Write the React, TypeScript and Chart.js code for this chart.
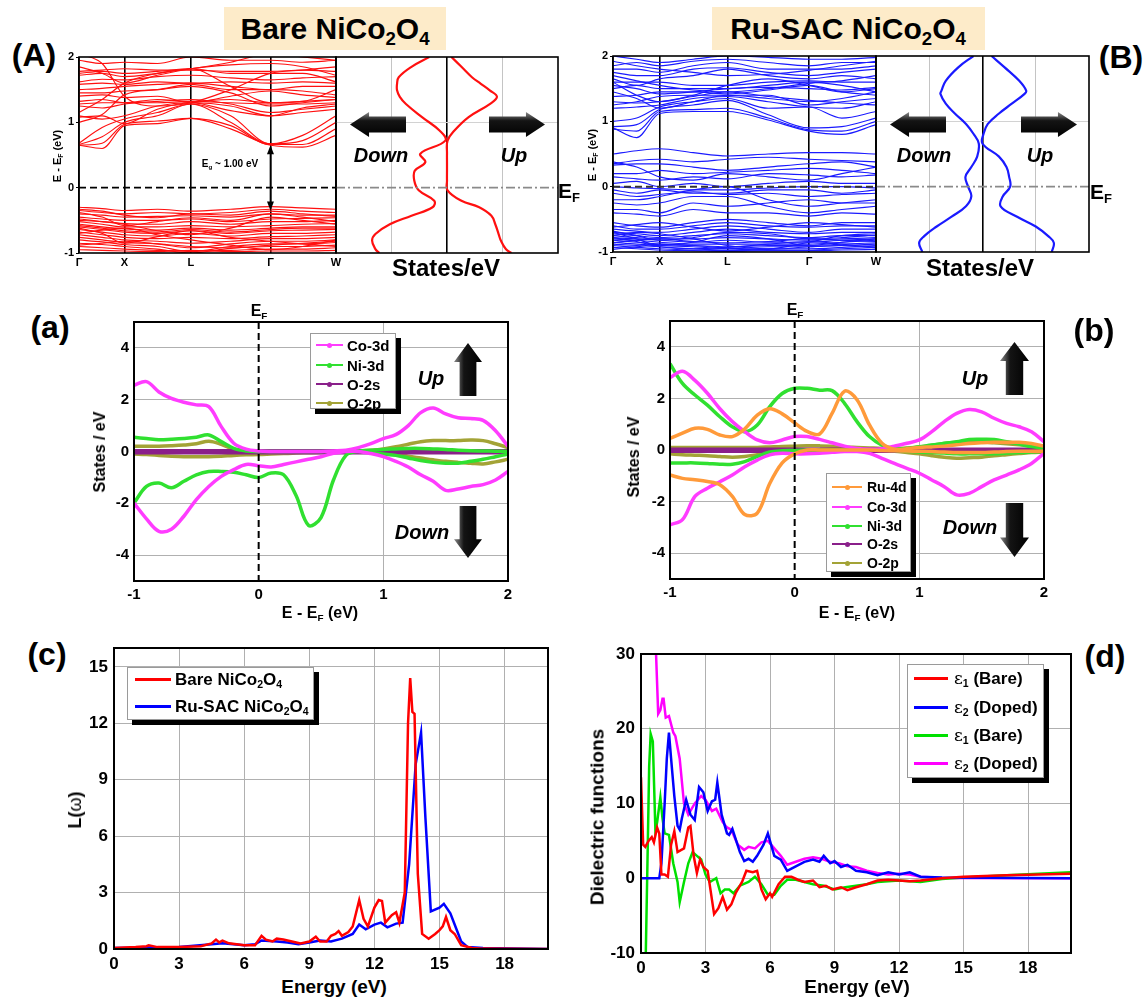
import React, { useEffect, useRef } from 'react';
import { Chart, registerables } from 'chart.js';
Chart.register(...registerables);

const FONT = "'Liberation Sans', Arial, Helvetica, sans-serif";

// ---------------- Band structures (A, B) ----------------
const K_PATH = [0, 0.09, 0.177, 0.305, 0.435, 0.59, 0.745, 0.87, 1.0];
const K_SYM = [0, 0.177, 0.435, 0.745, 1.0];
const K_LABELS = ['Γ', 'X', 'L', 'Γ', 'W'];
const BAND_Y_TICKS = [-1, 0, 1, 2];
const EG_TOP = 0.65;
const EG_BOTTOM = -0.35;

const BARE_COND = [
  [0.65, 0.60, 0.95, 0.98, 1.06, 0.90, 0.65, 0.62, 0.80],
  [0.65, 0.68, 0.97, 1.02, 1.06, 0.95, 0.66, 0.66, 0.90],
  [0.66, 0.78, 1.00, 1.10, 1.28, 1.00, 0.67, 0.72, 1.00],
  [0.68, 0.92, 1.05, 1.15, 1.28, 1.10, 0.67, 0.80, 1.10],
  [1.08, 1.10, 0.98, 1.20, 1.30, 1.25, 1.10, 1.15, 1.20],
  [1.10, 1.05, 1.10, 1.25, 1.30, 1.18, 1.10, 1.22, 1.28],
  [1.28, 1.30, 1.30, 1.30, 1.32, 1.30, 1.28, 1.28, 1.30],
  [1.32, 1.35, 1.30, 1.35, 1.32, 1.35, 1.30, 1.32, 1.35],
  [1.40, 1.42, 1.38, 1.40, 1.30, 1.40, 1.48, 1.42, 1.38],
  [1.45, 1.45, 1.48, 1.50, 1.58, 1.50, 1.50, 1.48, 1.42],
  [1.50, 1.52, 1.55, 1.58, 1.60, 1.55, 1.50, 1.55, 1.55],
  [1.58, 1.60, 1.58, 1.62, 1.60, 1.62, 1.60, 1.62, 1.60],
  [1.72, 1.75, 1.70, 1.75, 1.82, 1.55, 1.30, 1.32, 1.50],
  [1.75, 1.78, 1.75, 1.78, 1.82, 1.75, 1.75, 1.75, 1.62],
  [1.78, 1.80, 1.82, 1.80, 1.80, 1.78, 1.78, 1.80, 1.78],
  [1.85, 1.75, 1.60, 1.72, 1.82, 1.88, 1.90, 1.85, 1.72],
  [1.95, 1.90, 1.92, 1.90, 2.00, 1.95, 1.95, 1.92, 1.95],
  [2.05, 1.90, 1.40, 1.25, 1.30, 1.50, 1.75, 1.80, 1.85],
  [1.15, 1.35, 1.60, 1.75, 1.82, 1.92, 2.05, 2.00, 1.95],
  [1.00, 1.12, 1.42, 1.50, 1.55, 1.45, 1.25, 1.30, 1.35],
  [1.62, 1.66, 1.65, 1.70, 1.72, 1.68, 1.65, 1.68, 1.70],
  [1.25, 1.22, 1.28, 1.32, 1.35, 1.28, 1.15, 1.20, 1.25],
];
const BARE_VAL = [
  [-0.30, -0.32, -0.35, -0.33, -0.36, -0.33, -0.29, -0.31, -0.33],
  [-0.35, -0.38, -0.40, -0.38, -0.40, -0.38, -0.33, -0.36, -0.38],
  [-0.40, -0.42, -0.45, -0.44, -0.43, -0.45, -0.40, -0.42, -0.42],
  [-0.45, -0.48, -0.50, -0.50, -0.48, -0.52, -0.48, -0.47, -0.46],
  [-0.48, -0.52, -0.55, -0.56, -0.52, -0.56, -0.52, -0.52, -0.50],
  [-0.52, -0.56, -0.60, -0.60, -0.58, -0.60, -0.58, -0.56, -0.55],
  [-0.56, -0.60, -0.63, -0.65, -0.62, -0.65, -0.62, -0.60, -0.60],
  [-0.60, -0.64, -0.68, -0.70, -0.66, -0.70, -0.66, -0.65, -0.64],
  [-0.64, -0.68, -0.72, -0.74, -0.70, -0.74, -0.70, -0.70, -0.68],
  [-0.68, -0.72, -0.76, -0.78, -0.76, -0.78, -0.75, -0.74, -0.72],
  [-0.72, -0.76, -0.80, -0.82, -0.85, -0.82, -0.78, -0.78, -0.76],
  [-0.76, -0.80, -0.84, -0.86, -0.92, -0.86, -0.82, -0.82, -0.80],
  [-0.80, -0.83, -0.87, -0.90, -0.98, -0.90, -0.86, -0.86, -0.84],
  [-0.85, -0.87, -0.90, -0.94, -1.00, -0.93, -0.90, -0.90, -0.88],
  [-0.90, -0.92, -0.94, -0.96, -0.97, -0.96, -0.94, -0.94, -0.92],
  [-0.95, -0.96, -0.97, -0.98, -0.96, -0.98, -0.97, -0.97, -0.96],
  [-0.62, -0.70, -0.85, -0.75, -0.66, -0.76, -0.82, -0.86, -0.90],
  [-0.50, -0.52, -0.56, -0.66, -0.72, -0.62, -0.45, -0.50, -0.56],
  [-0.38, -0.45, -0.58, -0.52, -0.46, -0.50, -0.40, -0.45, -0.52],
  [-0.70, -0.65, -0.62, -0.72, -0.80, -0.88, -0.95, -0.90, -0.80],
  [-0.58, -0.62, -0.66, -0.68, -0.64, -0.68, -0.64, -0.62, -0.62],
  [-0.88, -0.85, -0.82, -0.86, -0.90, -0.92, -0.88, -0.85, -0.82],
  [-0.33, -0.36, -0.42, -0.46, -0.40, -0.42, -0.36, -0.40, -0.44],
];
const RU_COND = [
  [0.90, 0.75, 1.12, 1.15, 1.15, 1.02, 0.85, 0.80, 0.95],
  [0.88, 0.85, 1.15, 1.18, 1.20, 1.05, 0.87, 0.85, 1.00],
  [0.92, 0.95, 1.18, 1.25, 1.32, 1.10, 0.90, 0.92, 1.05],
  [1.00, 1.05, 1.22, 1.30, 1.35, 1.20, 1.22, 1.05, 1.15],
  [1.20, 1.22, 1.25, 1.35, 1.38, 1.30, 1.22, 1.20, 1.30],
  [1.25, 1.30, 1.38, 1.40, 1.40, 1.40, 1.25, 1.30, 1.35],
  [1.38, 1.40, 1.45, 1.45, 1.42, 1.48, 1.55, 1.45, 1.40],
  [1.50, 1.55, 1.50, 1.50, 1.50, 1.55, 1.60, 1.55, 1.45],
  [1.60, 1.60, 1.60, 1.55, 1.55, 1.60, 1.62, 1.60, 1.60],
  [1.65, 1.55, 1.65, 1.70, 1.80, 1.70, 1.65, 1.70, 1.65],
  [1.75, 1.70, 1.70, 1.80, 1.82, 1.75, 1.70, 1.75, 1.80],
  [1.80, 1.80, 1.75, 1.85, 1.90, 1.80, 1.80, 1.80, 1.85],
  [1.85, 1.90, 1.85, 1.92, 1.95, 1.90, 1.85, 1.90, 1.90],
  [2.00, 1.95, 1.90, 1.95, 2.00, 1.98, 1.95, 1.95, 1.98],
  [1.60, 1.40, 1.30, 1.40, 1.55, 1.65, 1.55, 1.45, 1.50],
  [1.45, 1.35, 1.20, 1.30, 1.40, 1.35, 1.30, 1.35, 1.45],
  [1.70, 1.62, 1.55, 1.48, 1.45, 1.50, 1.58, 1.62, 1.70],
  [1.30, 1.28, 1.30, 1.38, 1.45, 1.38, 1.32, 1.28, 1.25],
  [1.55, 1.50, 1.42, 1.45, 1.50, 1.52, 1.50, 1.48, 1.52],
  [1.92, 1.85, 1.80, 1.75, 1.70, 1.72, 1.78, 1.85, 1.92],
];
const RU_MID = [
  [0.50, 0.55, 0.58, 0.52, 0.47, 0.50, 0.52, 0.52, 0.50],
  [0.35, 0.40, 0.42, 0.38, 0.42, 0.45, 0.42, 0.40, 0.38],
  [0.33, 0.35, 0.35, 0.30, 0.25, 0.30, 0.35, 0.38, 0.30],
  [0.20, 0.20, 0.25, 0.20, 0.22, 0.25, 0.28, 0.25, 0.20],
  [0.15, 0.12, 0.10, 0.15, 0.12, 0.20, 0.18, 0.15, 0.18],
  [0.05, 0.08, 0.00, 0.05, 0.00, 0.05, 0.08, 0.05, 0.05],
  [0.00, -0.02, -0.03, -0.05, -0.05, -0.02, 0.00, 0.00, -0.02],
  [-0.05, -0.10, -0.05, -0.10, -0.10, -0.05, -0.05, -0.10, -0.05],
  [-0.10, -0.15, -0.12, -0.08, -0.12, -0.10, -0.15, -0.12, -0.10],
  [-0.20, -0.20, -0.15, -0.05, 0.00, -0.20, -0.30, -0.25, -0.20],
  [-0.25, -0.28, -0.25, -0.15, -0.15, -0.30, -0.40, -0.35, -0.30],
  [-0.35, -0.35, -0.40, -0.25, -0.30, -0.25, -0.20, -0.25, -0.25],
  [-0.40, -0.42, -0.45, -0.35, -0.40, -0.40, -0.45, -0.40, -0.42],
  [0.38, 0.30, 0.15, 0.10, 0.20, 0.15, 0.10, 0.20, 0.30],
];
const RU_LOW = [
  [-0.55, -0.60, -0.62, -0.55, -0.50, -0.55, -0.60, -0.55, -0.55],
  [-0.60, -0.65, -0.65, -0.60, -0.55, -0.60, -0.62, -0.60, -0.60],
  [-0.65, -0.68, -0.70, -0.65, -0.60, -0.65, -0.70, -0.65, -0.65],
  [-0.70, -0.72, -0.75, -0.70, -0.65, -0.70, -0.72, -0.70, -0.70],
  [-0.72, -0.75, -0.78, -0.75, -0.72, -0.75, -0.78, -0.75, -0.75],
  [-0.75, -0.78, -0.80, -0.80, -0.78, -0.80, -0.82, -0.80, -0.78],
  [-0.78, -0.80, -0.82, -0.85, -0.82, -0.85, -0.85, -0.82, -0.80],
  [-0.80, -0.82, -0.85, -0.88, -0.88, -0.88, -0.88, -0.85, -0.82],
  [-0.82, -0.85, -0.88, -0.90, -0.92, -0.90, -0.90, -0.88, -0.86],
  [-0.85, -0.88, -0.90, -0.92, -0.95, -0.92, -0.92, -0.90, -0.88],
  [-0.88, -0.90, -0.92, -0.95, -0.97, -0.95, -0.95, -0.93, -0.90],
  [-0.90, -0.93, -0.95, -0.97, -0.98, -0.97, -0.97, -0.95, -0.93],
  [-0.93, -0.95, -0.97, -0.98, -0.99, -0.98, -0.98, -0.97, -0.96],
  [-0.70, -0.80, -0.90, -0.85, -0.75, -0.80, -0.90, -0.85, -0.80],
  [-0.75, -0.70, -0.72, -0.80, -0.90, -0.95, -0.85, -0.75, -0.72],
  [-0.62, -0.58, -0.55, -0.62, -0.68, -0.62, -0.55, -0.58, -0.62],
  [-0.68, -0.75, -0.82, -0.78, -0.70, -0.72, -0.80, -0.78, -0.74],
  [-0.86, -0.82, -0.80, -0.84, -0.86, -0.84, -0.80, -0.82, -0.84],
  [-0.96, -0.92, -0.88, -0.90, -0.94, -0.96, -0.92, -0.90, -0.92],
  [-0.78, -0.84, -0.92, -0.95, -0.93, -0.88, -0.84, -0.88, -0.94],
];

// ---------------- Total DOS (side panels) ----------------
const DOS_X_GRID = [-1, 0, 1];
const DOS_Y_GRID = [1];
const DOS_A_E = [2.0, 1.85, 1.69, 1.59, 1.49, 1.39, 1.28, 1.08, 0.87, 0.72, 0.52, 0.39, 0.26, 0.11, -0.04, -0.2, -0.3, -0.43, -0.56, -0.71, -0.81, -0.94, -1.0];
const DOS_A_DOWN = [-0.32, -0.64, -0.87, -0.90, -0.90, -0.85, -0.74, -0.45, -0.13, -0.03, -0.48, -0.39, -0.58, -0.59, -0.51, -0.23, -0.26, -0.64, -1.03, -1.29, -1.35, -1.29, -1.22];
const DOS_A_UP = [0.08, 0.26, 0.45, 0.61, 0.77, 0.90, 0.77, 0.39, 0.13, 0.01, 0.00, 0.00, 0.00, 0.00, 0.01, 0.26, 0.58, 0.80, 0.87, 0.93, 0.97, 1.06, 1.16];
const DOS_B_E = [2.0, 1.83, 1.62, 1.47, 1.42, 1.27, 1.12, 0.96, 0.81, 0.66, 0.46, 0.30, 0.15, 0.0, -0.15, -0.30, -0.46, -0.61, -0.76, -0.86, -1.0];
const DOS_B_DOWN = [-0.17, -0.45, -0.69, -0.77, -0.79, -0.69, -0.52, -0.31, -0.17, -0.07, -0.10, -0.21, -0.32, -0.27, -0.21, -0.31, -0.58, -0.86, -1.10, -1.19, -1.13];
const DOS_B_UP = [0.17, 0.41, 0.69, 0.82, 0.79, 0.55, 0.31, 0.10, 0.02, 0.00, 0.31, 0.45, 0.50, 0.52, 0.38, 0.34, 0.65, 1.00, 1.24, 1.34, 1.30];

// ---------------- PDOS (a, b) ----------------
const PDOS_E = [-1.0, -0.9, -0.8, -0.7, -0.6, -0.5, -0.4, -0.3, -0.2, -0.1, 0.0, 0.1, 0.2, 0.3, 0.4, 0.5, 0.6, 0.7, 0.8, 0.9, 1.0, 1.1, 1.2, 1.3, 1.4, 1.5, 1.6, 1.7, 1.8, 1.9, 2.0];
const PDOS_X_TICKS = [-1, 0, 1, 2];
const PDOS_Y_TICKS = [-4, -2, 0, 2, 4];

const CO_UP_A = [2.56, 2.70, 2.30, 2.05, 1.90, 1.80, 1.73, 0.96, 0.32, 0.09, 0.02, 0.00, 0.00, 0.00, 0.00, 0.00, 0.02, 0.05, 0.15, 0.30, 0.50, 0.65, 1.00, 1.50, 1.68, 1.45, 1.30, 1.27, 1.20, 0.80, 0.20];
const CO_DN_A = [-1.99, -2.60, -3.08, -3.00, -2.50, -1.86, -1.35, -0.96, -0.70, -0.50, -0.55, -0.60, -0.50, -0.40, -0.30, -0.20, -0.07, 0.00, 0.00, -0.08, -0.20, -0.38, -0.60, -0.90, -1.15, -1.50, -1.45, -1.35, -1.28, -1.10, -0.77];
const NI_UP_A = [0.55, 0.50, 0.45, 0.47, 0.50, 0.55, 0.64, 0.38, 0.12, 0.02, 0.00, 0.00, 0.00, 0.00, 0.00, 0.00, 0.00, 0.00, 0.02, 0.05, 0.08, 0.10, 0.12, 0.12, 0.10, 0.08, 0.05, 0.03, 0.02, 0.01, 0.00];
const NI_DN_A = [-1.99, -1.35, -1.22, -1.40, -1.15, -0.90, -0.77, -0.77, -0.80, -0.90, -1.00, -0.83, -0.90, -1.70, -2.85, -2.55, -1.10, -0.15, 0.00, -0.05, -0.10, -0.15, -0.25, -0.35, -0.42, -0.45, -0.45, -0.38, -0.30, -0.20, -0.10];
const O2S_UP_A = [0.03, 0.03, 0.03, 0.03, 0.03, 0.03, 0.03, 0.03, 0.03, 0.03, 0.03, 0.03, 0.03, 0.03, 0.03, 0.03, 0.03, 0.03, 0.03, 0.03, 0.03, 0.03, 0.03, 0.03, 0.03, 0.03, 0.03, 0.03, 0.03, 0.03, 0.03];
const O2S_DN_A = [-0.05, -0.05, -0.05, -0.05, -0.05, -0.05, -0.05, -0.05, -0.05, -0.05, -0.05, -0.05, -0.05, -0.05, -0.05, -0.05, -0.05, -0.05, -0.05, -0.05, -0.05, -0.05, -0.05, -0.05, -0.05, -0.05, -0.05, -0.05, -0.05, -0.05, -0.05];
const O2P_UP_A = [0.20, 0.20, 0.20, 0.22, 0.25, 0.30, 0.40, 0.28, 0.08, 0.02, 0.00, 0.00, 0.00, 0.00, 0.00, 0.00, 0.00, 0.00, 0.02, 0.05, 0.10, 0.18, 0.28, 0.38, 0.42, 0.42, 0.42, 0.44, 0.42, 0.30, 0.15];
const O2P_DN_A = [-0.10, -0.12, -0.15, -0.18, -0.20, -0.20, -0.20, -0.18, -0.15, -0.13, -0.12, -0.10, -0.08, -0.06, -0.05, -0.04, -0.02, 0.00, 0.00, -0.02, -0.05, -0.10, -0.18, -0.25, -0.32, -0.38, -0.42, -0.45, -0.48, -0.40, -0.30];

const RU_UP_B = [0.45, 0.65, 0.84, 0.80, 0.58, 0.52, 0.82, 1.35, 1.60, 1.40, 1.05, 0.72, 0.62, 1.42, 2.28, 1.95, 0.97, 0.26, 0.03, 0.05, 0.10, 0.12, 0.15, 0.20, 0.25, 0.28, 0.30, 0.30, 0.30, 0.25, 0.15];
const RU_DN_B = [-0.97, -1.10, -1.15, -1.22, -1.35, -1.80, -2.50, -2.45, -1.30, -0.50, -0.15, 0.00, 0.00, 0.00, 0.00, 0.00, 0.00, -0.02, -0.03, -0.04, -0.05, -0.06, -0.08, -0.10, -0.10, -0.10, -0.08, -0.06, -0.05, -0.05, -0.05];
const CO_UP_B = [2.80, 3.05, 2.70, 2.20, 1.60, 1.10, 0.71, 0.39, 0.28, 0.39, 0.52, 0.52, 0.41, 0.28, 0.15, 0.06, 0.03, 0.05, 0.15, 0.26, 0.39, 0.71, 1.10, 1.42, 1.57, 1.48, 1.23, 1.03, 0.90, 0.71, 0.32];
const CO_DN_B = [-2.90, -2.70, -1.80, -1.48, -1.23, -0.97, -0.65, -0.39, -0.19, -0.13, -0.15, -0.15, -0.13, -0.09, -0.06, -0.06, -0.13, -0.32, -0.52, -0.71, -0.90, -1.16, -1.42, -1.74, -1.68, -1.42, -1.16, -0.97, -0.77, -0.52, -0.13];
const NI_UP_B = [3.35, 2.58, 2.13, 1.74, 1.29, 0.90, 0.71, 0.97, 1.68, 2.19, 2.39, 2.39, 2.32, 2.30, 1.81, 1.10, 0.52, 0.19, 0.06, 0.06, 0.13, 0.19, 0.26, 0.32, 0.41, 0.42, 0.41, 0.32, 0.23, 0.13, 0.06];
const NI_DN_B = [-0.50, -0.50, -0.50, -0.52, -0.55, -0.55, -0.45, -0.25, -0.08, -0.03, -0.02, 0.00, 0.00, 0.00, 0.00, 0.00, 0.00, 0.00, -0.02, -0.05, -0.08, -0.10, -0.12, -0.15, -0.15, -0.15, -0.15, -0.12, -0.10, -0.08, -0.05];
const O2S_UP_B = [0.03, 0.03, 0.03, 0.03, 0.03, 0.03, 0.03, 0.03, 0.03, 0.03, 0.03, 0.03, 0.03, 0.03, 0.03, 0.03, 0.03, 0.03, 0.03, 0.03, 0.03, 0.03, 0.03, 0.03, 0.03, 0.03, 0.03, 0.03, 0.03, 0.03, 0.03];
const O2S_DN_B = [-0.05, -0.05, -0.05, -0.05, -0.05, -0.05, -0.05, -0.05, -0.05, -0.05, -0.05, -0.05, -0.05, -0.05, -0.05, -0.05, -0.05, -0.05, -0.05, -0.05, -0.05, -0.05, -0.05, -0.05, -0.05, -0.05, -0.05, -0.05, -0.05, -0.05, -0.05];
const O2P_UP_B = [0.10, 0.10, 0.10, 0.10, 0.10, 0.10, 0.10, 0.10, 0.12, 0.14, 0.15, 0.16, 0.16, 0.15, 0.12, 0.10, 0.08, 0.06, 0.05, 0.08, 0.12, 0.18, 0.25, 0.30, 0.33, 0.32, 0.28, 0.24, 0.20, 0.16, 0.12];
const O2P_DN_B = [-0.15, -0.18, -0.20, -0.22, -0.25, -0.28, -0.25, -0.18, -0.10, -0.06, -0.04, -0.02, 0.00, 0.00, 0.00, 0.00, 0.00, -0.02, -0.05, -0.10, -0.15, -0.22, -0.28, -0.32, -0.30, -0.28, -0.22, -0.18, -0.14, -0.10, -0.08];

// ---------------- Loss function (c) ----------------
const OPT_X_TICKS = [0, 3, 6, 9, 12, 15, 18];
const LOSS_Y_TICKS = [0, 3, 6, 9, 12, 15];
const LOSS_E_BARE = [0, 1, 1.5, 1.6, 2, 3, 4, 4.5, 4.7, 4.85, 5.0, 5.3, 6, 6.5, 6.8, 7.0, 7.3, 7.5, 7.8, 8.2, 8.6, 9.0, 9.3, 9.5, 9.8, 10.0, 10.2, 10.35, 10.5, 10.8, 11.0, 11.3, 11.5, 11.7, 12.0, 12.2, 12.35, 12.5, 12.8, 13.0, 13.15, 13.4, 13.55, 13.65, 13.75, 13.85, 14.0, 14.2, 14.5, 14.8, 15.0, 15.15, 15.3, 15.5, 15.7, 16.0, 16.5, 17, 20];
const LOSS_BARE = [0.05, 0.1, 0.15, 0.2, 0.1, 0.1, 0.15, 0.3, 0.5, 0.35, 0.45, 0.3, 0.2, 0.2, 0.7, 0.5, 0.4, 0.55, 0.5, 0.4, 0.3, 0.4, 0.65, 0.4, 0.4, 0.7, 0.8, 0.95, 0.7, 0.9, 1.2, 2.6, 1.6, 1.2, 2.2, 2.6, 2.55, 1.4, 1.8, 1.95, 1.4, 3.0, 12.0, 14.4, 12.6, 12.5, 4.0, 0.8, 0.55, 0.8, 1.0, 1.2, 1.7, 1.0, 0.8, 0.2, 0.05, 0.02, 0];
const LOSS_E_RU = [0, 3, 4.5, 5, 6, 6.5, 6.8, 7.5, 8.0, 8.5, 9, 9.5, 10, 10.5, 11.0, 11.3, 11.6, 12.0, 12.3, 12.6, 13.0, 13.3, 13.6, 13.9, 14.15, 14.35, 14.6, 15.0, 15.2, 15.5, 15.8, 16.0, 16.3, 17.0, 20];
const LOSS_RU = [0.05, 0.1, 0.25, 0.3, 0.2, 0.25, 0.45, 0.4, 0.35, 0.25, 0.35, 0.45, 0.4, 0.55, 0.8, 1.3, 1.05, 1.3, 1.4, 1.15, 1.35, 1.4, 4.5, 9.8, 11.5, 7.0, 2.0, 2.2, 2.4, 1.9, 1.0, 0.4, 0.1, 0.05, 0];

// ---------------- Dielectric functions (d) ----------------
const EPS_Y_TICKS = [-10, 0, 10, 20, 30];
const EPS_E_RED = [0, 0.1, 0.2, 0.35, 0.5, 0.6, 0.75, 0.85, 0.95, 1.1, 1.25, 1.4, 1.55, 1.7, 2.0, 2.2, 2.3, 2.45, 2.6, 2.75, 2.9, 3.1, 3.4, 3.6, 3.8, 4.0, 4.2, 4.4, 4.7, 4.9, 5.2, 5.4, 5.6, 5.8, 6.0, 6.1, 6.4, 6.7, 7.0, 7.3, 7.6, 8.0, 8.3, 8.6, 8.9, 9.3, 9.6, 10.0, 10.5, 11.0, 11.5, 12.0, 12.5, 13.0, 14, 15, 17, 20];
const EPS_RED = [13.5, 4.5, 4.2, 5.0, 5.5, 4.8, 6.8, 6.0, 0.5, 0.5, 0.2, 4.5, 6.3, 3.5, 4.0, 6.8, 7.0, 3.0, 0.7, 2.5, 1.5, 1.0, -4.8, -4.0, -2.5, -4.2, -3.5, -2.0, -0.5, 1.0, 0.8, 1.0, -1.5, -2.8, -2.0, -2.5, -0.8, 0.2, 0.2, -0.2, -0.5, -0.3, -1.2, -1.0, -1.5, -1.2, -1.6, -1.2, -0.8, -0.3, -0.2, -0.3, -0.4, -0.3, 0.0, 0.2, 0.4, 0.6];
const EPS_E_BLUE = [0, 0.85, 0.95, 1.1, 1.2, 1.3, 1.4, 1.55, 1.7, 1.8, 1.9, 2.1, 2.3, 2.5, 2.7, 2.9, 3.1, 3.3, 3.45, 3.55, 3.75, 4.0, 4.1, 4.25, 4.6, 4.8, 5.0, 5.2, 5.4, 5.7, 5.9, 6.05, 6.2, 6.5, 6.8, 7.2, 7.6, 8.0, 8.3, 8.5, 8.8, 9.0, 9.3, 9.6, 10.0, 10.5, 11.0, 11.5, 12.0, 12.5, 13.0, 14, 20];
const EPS_BLUE = [0, 0, 2.0, 10.0, 16.0, 19.5, 16.0, 11.0, 7.0, 6.5, 8.0, 10.5, 8.5, 7.8, 12.2, 11.5, 9.0, 10.3, 10.5, 12.8, 8.5, 6.0, 5.8, 6.6, 3.5, 2.3, 2.6, 2.2, 3.0, 4.5, 6.0, 4.5, 3.0, 2.5, 1.0, 1.6, 2.2, 2.5, 2.2, 3.0, 2.0, 2.3, 1.5, 1.8, 1.0, 0.8, 0.4, 0.8, 0.5, 0.8, 0.2, 0.1, 0.0];
const EPS_E_GREEN = [0.22, 0.3, 0.38, 0.45, 0.55, 0.67, 0.75, 0.9, 1.0, 1.1, 1.3, 1.5, 1.7, 1.8, 2.0, 2.2, 2.4, 2.6, 2.8, 3.0, 3.2, 3.5, 3.7, 3.9, 4.1, 4.3, 4.6, 5.0, 5.3, 5.6, 5.9, 6.2, 6.5, 6.8, 7.2, 7.6, 8.0, 8.5, 9.0, 9.5, 10.0, 10.5, 11.0, 12, 13, 14, 15, 17, 20];
const EPS_GREEN = [-10.5, 2.0, 15, 19.3, 18.3, 6.4, 7.5, 10.8, 8.0, 6.0, 5.8, 2.0, -0.5, -3.2, -0.5, 2.0, 3.5, 3.0, 2.5, 0.5, -0.5, 0.0, -2.0, -1.5, -1.5, -2.0, -1.0, -0.5, 0.2, -0.8, -2.2, -2.2, -1.0, -0.2, -0.2, -0.5, -0.8, -1.0, -1.5, -1.2, -1.0, -0.8, -0.5, -0.3, -0.5, -0.1, 0.1, 0.4, 0.8];
const EPS_E_MAG = [0.7, 0.8, 0.9, 1.0, 1.05, 1.15, 1.3, 1.5, 1.6, 1.8, 2.0, 2.2, 2.5, 2.8, 3.0, 3.3, 3.5, 3.8, 4.0, 4.2, 4.5, 4.8, 5.0, 5.3, 5.6, 5.9, 6.2, 6.5, 6.8, 7.2, 7.6, 8.0, 8.4, 8.8, 9.2, 9.6, 10.0, 10.5, 11.0, 11.5, 12.0, 12.5, 13.0, 14, 20];
const EPS_MAG = [30, 22, 22.5, 24.0, 24.0, 21.5, 21.7, 19.5, 19.0, 16.0, 10.0, 8.5, 10.0, 11.0, 10.5, 9.0, 9.3, 7.5, 6.8, 6.5, 4.5, 3.8, 4.2, 4.0, 4.8, 5.0, 4.0, 3.0, 1.8, 2.2, 2.6, 2.8, 2.6, 2.2, 2.0, 1.6, 1.5, 1.0, 0.7, 0.5, 0.6, 0.5, 0.2, 0.05, 0];

// ---------------- colours ----------------
const C_RED = '#ff1010';
const C_BLUE = '#1a1aff';
const C_CO = '#ff3cff';
const C_NI = '#30e030';
const C_O2S = '#8a1f8a';
const C_O2P = '#a3a336';
const C_RU = '#ff9a3a';

// ---------------- helpers ----------------
const tf = (size: number) => ({ family: FONT, weight: 'bold' as any, size });
const fixY = (w: number) => (s: any) => { s.width = w; s.paddingTop = 0; s.paddingBottom = 0; };
const fixX = (h: number) => (s: any) => { s.height = h; s.paddingLeft = 0; s.paddingRight = 0; };
const setTicks = (vals: number[]) => (s: any) => { s.ticks = vals.map((v) => ({ value: v })); };

const framePlugin = (color: string, width: number) => ({
  id: 'frame',
  afterDraw(chart: any) {
    const { ctx, chartArea: a } = chart;
    ctx.save();
    ctx.strokeStyle = color;
    ctx.lineWidth = width;
    ctx.strokeRect(a.left, a.top, a.right - a.left, a.bottom - a.top);
    ctx.restore();
  },
});

const refLinesPlugin = (lines: { axis: 'x' | 'y'; value: number; color: string; width: number; dash?: number[] }[]) => ({
  id: 'refLines',
  afterDatasetsDraw(chart: any) {
    const { ctx, chartArea: a, scales } = chart;
    lines.forEach((l) => {
      ctx.save();
      ctx.beginPath();
      ctx.rect(a.left, a.top, a.right - a.left, a.bottom - a.top);
      ctx.clip();
      ctx.strokeStyle = l.color;
      ctx.lineWidth = l.width;
      ctx.setLineDash(l.dash || []);
      ctx.beginPath();
      if (l.axis === 'x') {
        const p = scales.x.getPixelForValue(l.value);
        ctx.moveTo(p, a.top);
        ctx.lineTo(p, a.bottom);
      } else {
        const p = scales.y.getPixelForValue(l.value);
        ctx.moveTo(a.left, p);
        ctx.lineTo(a.right, p);
      }
      ctx.stroke();
      ctx.restore();
    });
  },
});

const egArrowPlugin = {
  id: 'egArrow',
  afterDatasetsDraw(chart: any) {
    const { ctx, scales } = chart;
    const px = scales.x.getPixelForValue(K_SYM[3]);
    const y1 = scales.y.getPixelForValue(EG_TOP);
    const y2 = scales.y.getPixelForValue(EG_BOTTOM);
    ctx.save();
    ctx.strokeStyle = '#000';
    ctx.fillStyle = '#000';
    ctx.lineWidth = 1.6;
    ctx.beginPath();
    ctx.moveTo(px, y1 + 6);
    ctx.lineTo(px, y2 - 6);
    ctx.stroke();
    ctx.beginPath();
    ctx.moveTo(px, y1);
    ctx.lineTo(px - 3.5, y1 + 9);
    ctx.lineTo(px + 3.5, y1 + 9);
    ctx.closePath();
    ctx.fill();
    ctx.beginPath();
    ctx.moveTo(px, y2);
    ctx.lineTo(px - 3.5, y2 - 9);
    ctx.lineTo(px + 3.5, y2 - 9);
    ctx.closePath();
    ctx.fill();
    ctx.restore();
  },
};

const baseOpts = (padding: any) => ({
  responsive: false,
  animation: false,
  devicePixelRatio: 1,
  layout: { padding },
  plugins: { legend: { display: false }, tooltip: { enabled: false } },
});

// ---------------- configs ----------------
const bandSets = (bands: number[][], color: string) =>
  bands.map((b) => ({
    data: K_PATH.map((k, i) => ({ x: k, y: b[i] })),
    borderColor: color,
    borderWidth: 1.15,
    pointRadius: 0,
    cubicInterpolationMode: 'monotone',
    fill: false,
  }));

function bandConfig(sets: any[], plugins: any[]) {
  return {
    type: 'line',
    data: { datasets: sets },
    options: {
      ...baseOpts({ top: 7, right: 6, left: 0, bottom: 0 }),
      scales: {
        x: {
          type: 'linear', min: 0, max: 1,
          afterBuildTicks: setTicks(K_SYM),
          afterFit: fixX(18),
          ticks: { callback: (_v: any, i: number) => K_LABELS[i], font: tf(11), color: '#000', padding: 3, autoSkip: false, maxRotation: 0 },
          grid: { color: '#000', lineWidth: 1.6, drawTicks: false },
          border: { display: false },
        },
        y: {
          type: 'linear', min: -1, max: 2,
          afterBuildTicks: setTicks(BAND_Y_TICKS),
          afterFit: fixY(22),
          ticks: { callback: (v: any) => String(v), font: tf(11), color: '#000', padding: 2 },
          grid: { drawOnChartArea: false, drawTicks: true, tickLength: 3, color: '#000' },
          border: { display: false },
        },
      },
    },
    plugins,
  };
}

function dosConfig(E: number[], down: number[], up: number[], color: string) {
  return {
    type: 'scatter',
    data: {
      datasets: [down, up].map((arr) => ({
        data: E.map((e, i) => ({ x: arr[i], y: e })),
        showLine: true,
        borderColor: color,
        borderWidth: 2.2,
        pointRadius: 0,
        tension: 0.4,
      })),
    },
    options: {
      ...baseOpts({ top: 2, right: 2, left: 2, bottom: 2 }),
      scales: {
        x: {
          type: 'linear', min: -2, max: 2,
          afterBuildTicks: setTicks(DOS_X_GRID),
          afterFit: (s: any) => { s.height = 0; s.paddingLeft = 0; s.paddingRight = 0; },
          ticks: { display: false },
          grid: { color: (c: any) => (c.tick && c.tick.value === 0 ? '#000' : '#c4c4c4'), lineWidth: (c: any) => (c.tick && c.tick.value === 0 ? 1.6 : 1), drawTicks: false },
          border: { display: false },
        },
        y: {
          type: 'linear', min: -1, max: 2,
          afterBuildTicks: setTicks(DOS_Y_GRID),
          afterFit: (s: any) => { s.width = 0; s.paddingTop = 0; s.paddingBottom = 0; },
          ticks: { display: false },
          grid: { color: '#d2d2d2', drawTicks: false },
          border: { display: false },
        },
      },
    },
    plugins: [refLinesPlugin([{ axis: 'y', value: 0, color: '#8a8a8a', width: 1.6, dash: [9, 3, 2, 3] }]), framePlugin('#000', 1.6)],
  };
}

function pdosConfig(species: [number[], number[], string][]) {
  const sets = species.flatMap(([up, dn, color]) =>
    [up, dn].map((arr) => ({
      data: PDOS_E.map((e, i) => ({ x: e, y: arr[i] })),
      borderColor: color,
      borderWidth: 3.5,
      pointRadius: 0,
      tension: 0.35,
      fill: false,
    }))
  );
  return {
    type: 'line',
    data: { datasets: sets },
    options: {
      ...baseOpts({ top: 3, right: 7, left: 0, bottom: 0 }),
      scales: {
        x: {
          type: 'linear', min: -1, max: 2,
          afterBuildTicks: setTicks(PDOS_X_TICKS),
          afterFit: fixX(24),
          ticks: { callback: (v: any) => String(v), font: tf(15), color: '#000', padding: 5, autoSkip: false, maxRotation: 0 },
          grid: { color: (c: any) => (c.tick && c.tick.value === 1 ? '#b0b0b0' : 'rgba(0,0,0,0)'), drawTicks: false },
          border: { display: false },
        },
        y: {
          type: 'linear', min: -5, max: 5,
          afterBuildTicks: setTicks(PDOS_Y_TICKS),
          afterFit: fixY(34),
          ticks: { callback: (v: any) => String(v), font: tf(15), color: '#000', padding: 5 },
          grid: { color: '#b0b0b0', drawTicks: false },
          border: { display: false },
        },
      },
    },
    plugins: [refLinesPlugin([{ axis: 'x', value: 0, color: '#000', width: 2, dash: [7, 4] }]), framePlugin('#000', 2)],
  };
}

function optConfig(series: [number[], number[], string][], yMin: number, yMax: number, yTicks: number[], yW: number, padTop: number) {
  return {
    type: 'line',
    data: {
      datasets: series.map(([xs, ys, color]) => ({
        data: xs.map((x, i) => ({ x, y: ys[i] })),
        borderColor: color,
        borderWidth: 2.5,
        pointRadius: 0,
        tension: 0,
        fill: false,
      })),
    },
    options: {
      ...baseOpts({ top: padTop, right: 4, left: 0, bottom: 0 }),
      scales: {
        x: {
          type: 'linear', min: 0, max: 20,
          afterBuildTicks: setTicks(OPT_X_TICKS),
          afterFit: fixX(26),
          ticks: { callback: (v: any) => String(v), font: tf(17), color: '#000', padding: 5, autoSkip: false, maxRotation: 0 },
          grid: { color: '#b0b0b0', drawTicks: false },
          border: { display: false },
        },
        y: {
          type: 'linear', min: yMin, max: yMax,
          afterBuildTicks: setTicks(yTicks),
          afterFit: fixY(yW),
          ticks: { callback: (v: any) => String(v), font: tf(17), color: '#000', padding: 6 },
          grid: { color: '#b0b0b0', drawTicks: false },
          border: { display: false },
        },
      },
    },
    plugins: [framePlugin('#000', 2)],
  };
}

// ---------------- React components ----------------
function ChartBox({ box, make }: { box: number[]; make: () => any }) {
  const ref = useRef<HTMLCanvasElement>(null);
  useEffect(() => {
    const chart = new Chart(ref.current as HTMLCanvasElement, make());
    return () => chart.destroy();
  }, []);
  const [l, t, w, h] = box;
  return <canvas ref={ref} width={w} height={h} style={{ position: 'absolute', left: l, top: t, width: w, height: h }} />;
}

const Sub = ({ c }: { c: string }) => (
  <span style={{ fontSize: '0.62em', position: 'relative', top: '0.32em' }}>{c}</span>
);

function Txt({ x, y, size, children, italic, rot, weight }: any) {
  return (
    <div
      style={{
        position: 'absolute', left: x, top: y,
        transform: `translate(-50%, -50%)${rot ? ' rotate(-90deg)' : ''}`,
        fontFamily: FONT, fontWeight: weight ?? 'bold', fontStyle: italic ? 'italic' : 'normal',
        fontSize: size, whiteSpace: 'nowrap', lineHeight: 1, color: '#000',
      }}
    >
      {children}
    </div>
  );
}

function Arrow({ x, y, w, h, dir, id }: any) {
  const horiz = dir === 'left' || dir === 'right';
  let pts: number[][];
  if (horiz) {
    const hl = w * 0.34, s1 = h * 0.18, s2 = h * 0.82;
    pts = [[0, s1], [w - hl, s1], [w - hl, 0], [w, h / 2], [w - hl, h], [w - hl, s2], [0, s2]];
    if (dir === 'left') pts = pts.map(([px, py]) => [w - px, py]);
  } else {
    const hl = h * 0.36, s1 = w * 0.2, s2 = w * 0.8;
    pts = [[s1, h], [s1, hl], [0, hl], [w / 2, 0], [w, hl], [s2, hl], [s2, h]];
    if (dir === 'down') pts = pts.map(([px, py]) => [px, h - py]);
  }
  return (
    <svg style={{ position: 'absolute', left: x, top: y, overflow: 'visible' }} width={w} height={h}>
      <defs>
        <linearGradient id={id} x1="0" y1="0" x2={horiz ? '0' : '1'} y2={horiz ? '1' : '0'}>
          <stop offset="0" stopColor="#8c8c8c" />
          <stop offset="0.35" stopColor="#141414" />
          <stop offset="1" stopColor="#000" />
        </linearGradient>
      </defs>
      <polygon points={pts.map((p) => p.join(',')).join(' ')} fill={`url(#${id})`} />
    </svg>
  );
}

function Legend({ x, y, w, h, rows, lx1, lx2, tx, size, lw, dot }: any) {
  return (
    <div style={{ position: 'absolute', left: x, top: y, width: w, height: h, background: '#fff', border: '1px solid #9a9a9a', boxShadow: '5px 5px 0 #000', boxSizing: 'border-box' }}>
      {rows.map((r: any, i: number) => (
        <React.Fragment key={i}>
          <div style={{ position: 'absolute', left: lx1 - x - 1, top: r.y - y - 1 - lw / 2, width: lx2 - lx1, height: lw, background: r.color }} />
          {dot && (
            <div style={{ position: 'absolute', left: (lx1 + lx2) / 2 - x - 3.5, top: r.y - y - 3.5, width: 5, height: 5, borderRadius: '50%', background: r.color }} />
          )}
          <div style={{ position: 'absolute', left: tx - x - 1, top: r.y - y - 1, transform: 'translateY(-50%)', fontFamily: FONT, fontWeight: 'bold', fontSize: size, whiteSpace: 'nowrap', lineHeight: 1 }}>
            {r.label}
          </div>
        </React.Fragment>
      ))}
    </div>
  );
}

const NiCo = () => (
  <>
    NiCo<Sub c="2" />O<Sub c="4" />
  </>
);
const EF = () => (
  <>
    E<Sub c="F" />
  </>
);
const Eps = ({ n, t }: { n: string; t: string }) => (
  <>
    <span style={{ fontFamily: "'DejaVu Serif', serif", fontWeight: 'normal' }}>ε</span>
    <Sub c={n} /> ({t})
  </>
);

export default function App() {
  return (
    <div style={{ position: 'absolute', left: 0, top: 0, width: 1146, height: 997, overflow: 'hidden', background: '#fff' }}>
      {/* ---------- Row 1: band structures + DOS ---------- */}
      <div style={{ position: 'absolute', left: 224, top: 7, width: 222, height: 43, background: '#fdebc9' }} />
      <div style={{ position: 'absolute', left: 712, top: 7, width: 273, height: 43, background: '#fdebc9' }} />
      <Txt x={335} y={29} size={30}>Bare <NiCo /></Txt>
      <Txt x={848} y={29} size={30}>Ru-SAC <NiCo /></Txt>
      <Txt x={34} y={55} size={32}>(A)</Txt>
      <Txt x={1121} y={57} size={32}>(B)</Txt>

      <ChartBox box={[57, 50, 285, 221]} make={() => bandConfig([...bandSets(BARE_COND, C_RED), ...bandSets(BARE_VAL, C_RED)], [refLinesPlugin([{ axis: 'y', value: 0, color: '#000', width: 1.6, dash: [7, 4] }]), egArrowPlugin, framePlugin('#000', 1.6)])} />
      <ChartBox box={[334, 55, 226, 200]} make={() => dosConfig(DOS_A_E, DOS_A_DOWN, DOS_A_UP, C_RED)} />
      <ChartBox box={[591, 49, 291, 221]} make={() => bandConfig([...bandSets(RU_COND, C_BLUE), ...bandSets(RU_MID, C_BLUE), ...bandSets(RU_LOW, C_BLUE)], [refLinesPlugin([{ axis: 'y', value: 0, color: '#333', width: 2, dash: [7, 4] }]), framePlugin('#000', 1.6)])} />
      <ChartBox box={[874, 54, 217, 200]} make={() => dosConfig(DOS_B_E, DOS_B_DOWN, DOS_B_UP, C_BLUE)} />

      <Txt x={57} y={156} size={11} rot>E - E<Sub c="F" /> (eV)</Txt>
      <Txt x={592} y={155} size={11} rot>E - E<Sub c="F" /> (eV)</Txt>
      <Txt x={230} y={164} size={10}>E<Sub c="g" /> ~ 1.00 eV</Txt>
      <Txt x={569} y={190} size={21}><EF /></Txt>
      <Txt x={1101} y={191} size={21}><EF /></Txt>
      <Txt x={446} y={268} size={24}>States/eV</Txt>
      <Txt x={980} y={268} size={24}>States/eV</Txt>

      <Arrow x={350} y={112} w={56} h={25} dir="left" id="ga1" />
      <Arrow x={489} y={112} w={56} h={25} dir="right" id="ga2" />
      <Txt x={381} y={155} size={20} italic>Down</Txt>
      <Txt x={514} y={155} size={20} italic>Up</Txt>
      <Arrow x={890} y={112} w={56} h={25} dir="left" id="ga3" />
      <Arrow x={1021} y={112} w={56} h={25} dir="right" id="ga4" />
      <Txt x={924} y={155} size={20} italic>Down</Txt>
      <Txt x={1040} y={155} size={20} italic>Up</Txt>

      {/* ---------- Row 2: PDOS ---------- */}
      <Txt x={50} y={327} size={32}>(a)</Txt>
      <Txt x={1094} y={330} size={32}>(b)</Txt>
      <ChartBox box={[100, 319, 415, 286]} make={() => pdosConfig([[CO_UP_A, CO_DN_A, C_CO], [NI_UP_A, NI_DN_A, C_NI], [O2S_UP_A, O2S_DN_A, C_O2S], [O2P_UP_A, O2P_DN_A, C_O2P]])} />
      <ChartBox box={[636, 318, 415, 285]} make={() => pdosConfig([[RU_UP_B, RU_DN_B, C_RU], [CO_UP_B, CO_DN_B, C_CO], [NI_UP_B, NI_DN_B, C_NI], [O2S_UP_B, O2S_DN_B, C_O2S], [O2P_UP_B, O2P_DN_B, C_O2P]])} />
      <Txt x={259} y={311} size={16}><EF /></Txt>
      <Txt x={795} y={310} size={16}><EF /></Txt>
      <Txt x={100} y={452} size={16} rot>States / eV</Txt>
      <Txt x={634} y={457} size={16} rot>States / eV</Txt>
      <Txt x={320} y={613} size={16}>E - E<Sub c="F" /> (eV)</Txt>
      <Txt x={857} y={613} size={16}>E - E<Sub c="F" /> (eV)</Txt>

      <Legend x={310} y={333} w={86} h={76} lx1={316} lx2={343} tx={347} size={15} lw={2.5} dot
        rows={[{ label: 'Co-3d', color: C_CO, y: 345 }, { label: 'Ni-3d', color: C_NI, y: 365 }, { label: 'O-2s', color: C_O2S, y: 384 }, { label: 'O-2p', color: C_O2P, y: 403 }]} />
      <Legend x={826} y={473} w={85} h={99} lx1={832} lx2={862} tx={867} size={14} lw={2.5} dot
        rows={[{ label: 'Ru-4d', color: C_RU, y: 487 }, { label: 'Co-3d', color: C_CO, y: 507 }, { label: 'Ni-3d', color: C_NI, y: 526 }, { label: 'O-2s', color: C_O2S, y: 544 }, { label: 'O-2p', color: C_O2P, y: 563 }]} />

      <Arrow x={454} y={343} w={28} h={53} dir="up" id="gv1" />
      <Arrow x={454} y={506} w={28} h={52} dir="down" id="gv2" />
      <Txt x={431} y={378} size={20} italic>Up</Txt>
      <Txt x={422} y={532} size={20} italic>Down</Txt>
      <Arrow x={1000} y={342} w={29} h={53} dir="up" id="gv3" />
      <Arrow x={1000} y={503} w={29} h={54} dir="down" id="gv4" />
      <Txt x={975} y={378} size={20} italic>Up</Txt>
      <Txt x={970} y={527} size={20} italic>Down</Txt>

      {/* ---------- Row 3: optical ---------- */}
      <Txt x={47} y={654} size={32}>(c)</Txt>
      <Txt x={1105} y={656} size={32}>(d)</Txt>
      <ChartBox box={[74, 645, 478, 330]} make={() => optConfig([[LOSS_E_BARE, LOSS_BARE, '#ff0000'], [LOSS_E_RU, LOSS_RU, '#0000ff']], 0, 16, LOSS_Y_TICKS, 40, 3)} />
      <ChartBox box={[599, 644, 476, 335]} make={() => optConfig([[EPS_E_RED, EPS_RED, '#ff0000'], [EPS_E_BLUE, EPS_BLUE, '#0000ff'], [EPS_E_GREEN, EPS_GREEN, '#00e000'], [EPS_E_MAG, EPS_MAG, '#ff00ff']], -10, 30, EPS_Y_TICKS, 42, 10)} />
      <Txt x={75} y={810} size={18} rot>L(<span style={{ fontWeight: 'normal' }}>ω</span>)</Txt>
      <Txt x={334} y={986} size={19}>Energy (eV)</Txt>
      <Txt x={597} y={817} size={19} rot>Dielectric functions</Txt>
      <Txt x={857} y={986} size={19}>Energy (eV)</Txt>

      <Legend x={127} y={667} w={187} h={53} lx1={135} lx2={171} tx={175} size={17} lw={3}
        rows={[{ label: <>Bare <NiCo /></>, color: '#ff0000', y: 679 }, { label: <>Ru-SAC <NiCo /></>, color: '#0000ff', y: 706 }]} />
      <Legend x={907} y={664} w={137} h={114} lx1={914} lx2={948} tx={954} size={17} lw={3}
        rows={[{ label: <Eps n="1" t="Bare" />, color: '#ff0000', y: 678 }, { label: <Eps n="2" t="Doped" />, color: '#0000ff', y: 707 }, { label: <Eps n="1" t="Bare" />, color: '#00e000', y: 735 }, { label: <Eps n="2" t="Doped" />, color: '#ff00ff', y: 763 }]} />
    </div>
  );
}
